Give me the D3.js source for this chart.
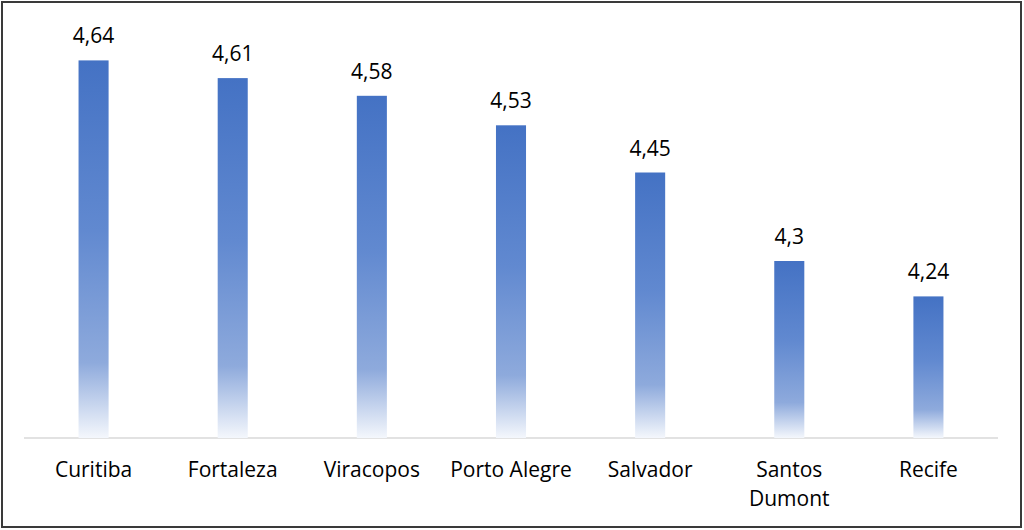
<!DOCTYPE html>
<html>
<head>
<meta charset="utf-8">
<script src="https://cdn.jsdelivr.net/npm/d3@7"></script>
<style>
  html, body { margin: 0; padding: 0; background: #fff; }
  svg { display: block; }
</style>
</head>
<body>
<svg id="chart" width="1024" height="530"></svg>
<script>
const categories = ["Curitiba", "Fortaleza", "Viracopos", "Porto Alegre", "Salvador", "Santos Dumont", "Recife"];
const values = [4.64, 4.61, 4.58, 4.53, 4.45, 4.3, 4.24];
const valueLabels = ["4,64", "4,61", "4,58", "4,53", "4,45", "4,3", "4,24"];
const categoryLines = [["Curitiba"], ["Fortaleza"], ["Viracopos"], ["Porto Alegre"], ["Salvador"], ["Santos", "Dumont"], ["Recife"]];
const yDomain = [4.0, 4.7];

const svg = d3.select("#chart");
const W = 1024, H = 530;
const font = "'Open Sans', sans-serif";

// border
svg.append("rect").attr("x", 2).attr("y", 2).attr("width", W - 5).attr("height", H - 5)
  .attr("fill", "#fff").attr("stroke", "#3a3a3a").attr("stroke-width", 2);

const defs = svg.append("defs");
const grad = defs.append("linearGradient").attr("id", "barGrad")
  .attr("x1", 0).attr("y1", 0).attr("x2", 0).attr("y2", 1);
[[0, "#4472C4"], [0.45, "#6189D0"], [0.8, "#8EAADC"], [1, "#F4F7FC"]].forEach(([o, c]) =>
  grad.append("stop").attr("offset", o).attr("stop-color", c));

const x = d3.scaleBand().domain(categories).range([24, 998]).paddingInner(0.784).paddingOuter(0.392);
const y = d3.scaleLinear().domain(yDomain).range([438, 25]);

// baseline
svg.append("line").attr("x1", 24).attr("x2", 998).attr("y1", y(yDomain[0])).attr("y2", y(yDomain[0]))
  .attr("stroke", "#D9D9D9").attr("stroke-width", 1.5);

svg.selectAll("rect.bar").data(values).join("rect").attr("class", "bar")
  .attr("x", (d, i) => x(categories[i]))
  .attr("width", x.bandwidth())
  .attr("y", d => y(d))
  .attr("height", d => y(yDomain[0]) - y(d))
  .attr("fill", "url(#barGrad)");

svg.selectAll("text.val").data(values).join("text").attr("class", "val")
  .attr("x", (d, i) => x(categories[i]) + x.bandwidth() / 2)
  .attr("y", d => y(d) - 17)
  .attr("text-anchor", "middle")
  .attr("font-family", font).attr("font-size", 21).attr("fill", "#000")
  .text((d, i) => valueLabels[i]);

const cat = svg.selectAll("text.cat").data(categories).join("text").attr("class", "cat")
  .attr("x", d => x(d) + x.bandwidth() / 2)
  .attr("y", 477)
  .attr("text-anchor", "middle")
  .attr("font-family", font).attr("font-size", 21).attr("fill", "#000");
cat.each(function(d, i) {
  const t = d3.select(this);
  categoryLines[i].forEach((ln, j) => {
    t.append("tspan").attr("x", x(d) + x.bandwidth() / 2).attr("dy", j === 0 ? 0 : 29).text(ln);
  });
});
</script>
</body>
</html>
